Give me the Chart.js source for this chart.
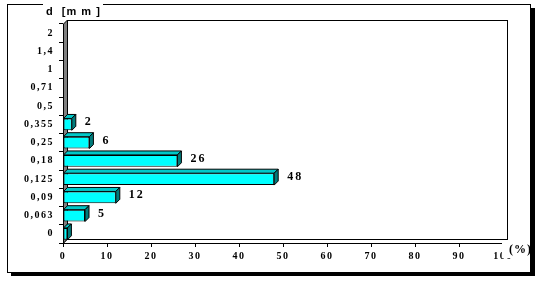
<!DOCTYPE html>
<html>
<head>
<meta charset="utf-8">
<script src="https://cdn.jsdelivr.net/npm/chart.js@4"></script>
<style>
  body { margin: 0; background: #fff; }
  #c { display: block; }
</style>
</head>
<body>
<canvas id="c" width="542" height="287"></canvas>
<script>
// sieve sizes (bottom to top) and share of each fraction in %
const sizes = ['0', '0,063', '0,09', '0,125', '0,18', '0,25', '0,355', '0,5', '0,71', '1', '1,4', '2'];
const shares = [1, 5, 12, 48, 26, 6, 2, 0, 0, 0, 0, 0];
const xTicks = [0, 10, 20, 30, 40, 50, 60, 70, 80, 90, 100];

const DX = 4, DY = 4; // fake 3d depth

const frame3d = {
  id: 'frame3d',
  beforeDraw(chart) {
    const ctx = chart.ctx;
    ctx.save();
    ctx.fillStyle = '#fff';
    ctx.fillRect(0, 0, chart.width, chart.height);
    // outer box with shadow
    ctx.fillStyle = '#000';
    ctx.fillRect(531, 8, 4, 268);
    ctx.fillRect(11, 273, 524, 3);
    ctx.strokeStyle = '#000';
    ctx.lineWidth = 1;
    ctx.strokeRect(7.5, 4.5, 523, 268);
    // title over the frame line
    ctx.fillStyle = '#fff';
    ctx.fillRect(43, 0, 60, 12);
    ctx.fillStyle = '#000';
    ctx.font = 'bold 11px "Liberation Sans", Arial, sans-serif';
    ctx.letterSpacing = '1px';
    ctx.textBaseline = 'middle';
    ctx.textAlign = 'left';
    ctx.fillText('d  [m m ]', 46, 12);
    ctx.restore();
    ctx.letterSpacing = '1.5px';
  },
  beforeDatasetsDraw(chart) {
    const ctx = chart.ctx;
    const a = chart.chartArea;
    ctx.save();
    ctx.strokeStyle = '#000';
    ctx.lineWidth = 1;
    // back wall
    ctx.strokeRect(Math.round(a.left + DX) + 0.5, Math.round(a.top - DY) + 0.5,
      Math.round(a.right - a.left), Math.round(a.bottom - a.top));
    // floor
    ctx.beginPath();
    ctx.moveTo(a.left, a.bottom + 0.5);
    ctx.lineTo(a.right, a.bottom + 0.5);
    ctx.lineTo(a.right + DX + 0.5, a.bottom - DY + 0.5);
    ctx.lineTo(a.left + DX, a.bottom - DY + 0.5);
    ctx.closePath();
    ctx.fillStyle = '#fff';
    ctx.fill();
    ctx.stroke();
    // side wall
    ctx.beginPath();
    ctx.moveTo(a.left + 0.5, a.top);
    ctx.lineTo(a.left + DX + 0.5, a.top - DY);
    ctx.lineTo(a.left + DX + 0.5, a.bottom - DY);
    ctx.lineTo(a.left + 0.5, a.bottom);
    ctx.closePath();
    ctx.fillStyle = '#808080';
    ctx.fill();
    ctx.stroke();
    ctx.restore();
  },
  afterDatasetsDraw(chart) {
    const ctx = chart.ctx;
    const meta = chart.getDatasetMeta(0);
    ctx.save();
    ctx.strokeStyle = '#000';
    ctx.lineWidth = 1;
    meta.data.forEach((bar, i) => {
      if (!shares[i]) return;
      const top = bar.y - bar.height / 2;
      const bot = bar.y + bar.height / 2;
      // top face
      ctx.beginPath();
      ctx.moveTo(bar.base, top);
      ctx.lineTo(bar.x, top);
      ctx.lineTo(bar.x + DX, top - DY);
      ctx.lineTo(bar.base + DX, top - DY);
      ctx.closePath();
      ctx.fillStyle = '#00c8c8';
      ctx.fill();
      ctx.stroke();
      // end face
      ctx.beginPath();
      ctx.moveTo(bar.x, top);
      ctx.lineTo(bar.x + DX, top - DY);
      ctx.lineTo(bar.x + DX, bot - DY);
      ctx.lineTo(bar.x, bot);
      ctx.closePath();
      ctx.fillStyle = '#007b7b';
      ctx.fill();
      ctx.stroke();
      // value label
      if (i > 0) {
        ctx.fillStyle = '#000';
        ctx.font = 'bold 12px "Liberation Serif", "Times New Roman", serif';
        ctx.letterSpacing = '2px';
        ctx.textBaseline = 'middle';
        ctx.textAlign = 'left';
        ctx.fillText(String(shares[i]), bar.x + DX + 9, bar.y - 2);
      }
    });
    // axis unit
    ctx.fillStyle = '#fff';
    ctx.fillRect(502, 240, 28, 18);
    ctx.fillStyle = '#000';
    ctx.font = 'bold 12px "Liberation Serif", "Times New Roman", serif';
    ctx.letterSpacing = '1px';
    ctx.textAlign = 'left';
    ctx.textBaseline = 'middle';
    ctx.fillText('(%)', 509, 250);
    ctx.restore();
  }
};

const tickFont = { family: '"Liberation Serif", "Times New Roman", serif', size: 10, weight: 'bold' };

new Chart(document.getElementById('c'), {
  type: 'bar',
  data: {
    labels: sizes,
    datasets: [{
      data: shares,
      backgroundColor: '#00ffff',
      borderColor: '#000',
      borderWidth: ctx => (shares[ctx.dataIndex] > 0 ? 1 : 0),
      borderSkipped: false,
      barPercentage: 0.65,
      categoryPercentage: 1
    }]
  },
  options: {
    indexAxis: 'y',
    responsive: false,
    animation: false,
    devicePixelRatio: 1,
    layout: { padding: { left: 0, top: 24, right: 39, bottom: 26 } },
    plugins: { legend: { display: false }, tooltip: { enabled: false } },
    scales: {
      x: {
        type: 'linear',
        min: 0,
        max: 100,
        afterBuildTicks: s => { s.ticks = xTicks.map(v => ({ value: v })); },
        afterFit: s => { s.height = 18; },
        border: { display: true, color: '#000', width: 1 },
        grid: { drawOnChartArea: false, color: '#000', tickLength: 4 },
        ticks: { color: '#000', font: tickFont, padding: 3, maxRotation: 0 }
      },
      y: {
        reverse: true,
        afterFit: s => { s.width = 63; },
        border: { display: true, color: '#000', width: 1 },
        grid: { drawOnChartArea: false, offset: true, color: '#000', tickLength: 4 },
        ticks: { color: '#000', font: tickFont, padding: 5 }
      }
    }
  },
  plugins: [frame3d]
});
</script>
</body>
</html>
